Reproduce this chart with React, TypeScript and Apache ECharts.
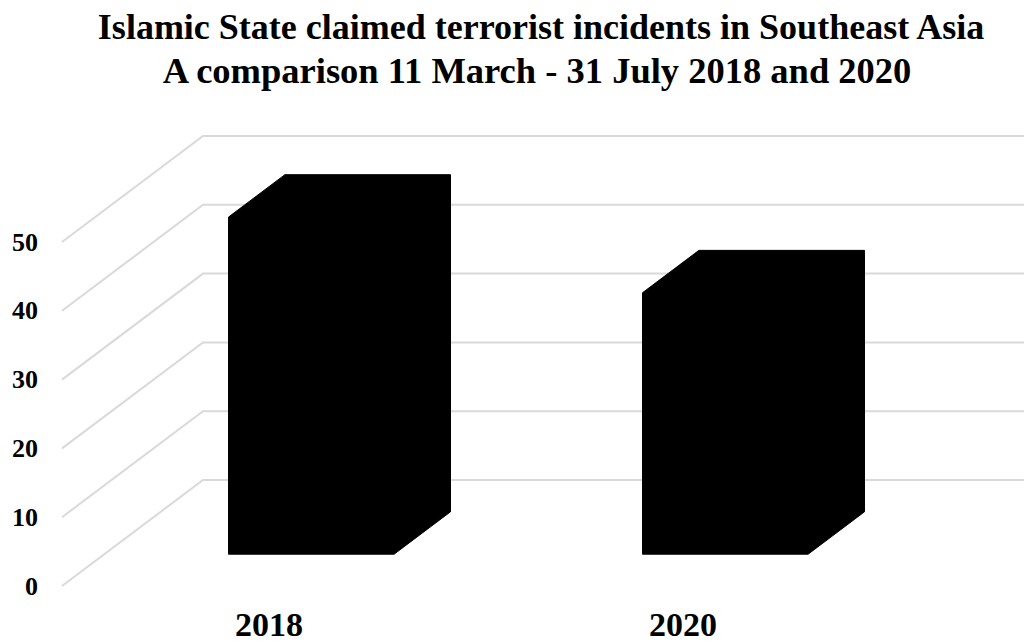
import React, { useEffect, useRef } from "react";
import * as echarts from "echarts";

const categories = ["2018", "2020"];
const incidents = [49, 38];
const yTicks = [0, 10, 20, 30, 40, 50];
const titleLines = [
  "Islamic State claimed terrorist incidents in Southeast Asia",
  "A comparison 11 March - 31 July 2018 and 2020",
];

const DX = 141;
const DY = -106;
const FONT = "'Liberation Serif', 'Times New Roman', serif";

export default function App() {
  const ref = useRef<HTMLDivElement>(null);
  useEffect(() => {
    const chart = echarts.init(ref.current!, null, { renderer: "svg" });
    const option: any = {
      animation: false,
      backgroundColor: "#ffffff",
      graphic: [
        {
          type: "text",
          x: 541,
          y: 27,
          style: {
            text: titleLines[0],
            font: `bold 36px ${FONT}`,
            fill: "#000",
            textAlign: "center",
            textVerticalAlign: "middle",
          },
        },
        {
          type: "text",
          x: 537,
          y: 70,
          style: {
            text: titleLines[1],
            font: `bold 36.5px ${FONT}`,
            fill: "#000",
            textAlign: "center",
            textVerticalAlign: "middle",
          },
        },
      ],
      grid: { left: 62, right: 134, top: 242, bottom: 58, containLabel: false },
      xAxis: {
        type: "category",
        data: categories,
        axisLine: { show: false },
        axisTick: { show: false },
        splitLine: { show: false },
        axisLabel: {
          color: "#000",
          fontFamily: FONT,
          fontWeight: "bold",
          fontSize: 34,
          lineHeight: 28,
          margin: 24,
        },
      },
      yAxis: {
        type: "value",
        min: 0,
        max: 50,
        interval: 10,
        axisLine: { show: false },
        axisTick: { show: false },
        splitLine: { show: false },
        axisLabel: {
          color: "#000",
          fontFamily: FONT,
          fontWeight: "bold",
          fontSize: 26,
          margin: 24,
        },
      },
      series: [
        {
          type: "custom",
          z: 1,
          silent: true,
          data: yTicks.map((v) => [0, v]),
          renderItem: (params: any, api: any) => {
            const cs = params.coordSys;
            const p = api.coord([0, api.value(1)]);
            const y = p[1];
            return {
              type: "polyline",
              shape: {
                points: [
                  [cs.x, y],
                  [cs.x + DX, y + DY],
                  [cs.x + cs.width + DX, y + DY],
                ],
              },
              style: { stroke: "#d9d9d9", lineWidth: 2, fill: "none" },
            };
          },
        },
        {
          type: "custom",
          z: 2,
          data: incidents.map((v, i) => [i, v]),
          renderItem: (params: any, api: any) => {
            const i = api.value(0);
            const v = api.value(1);
            const base = api.coord([i, 0]);
            const top = api.coord([i, v]);
            const bw = api.size([1, 0])[0] * 0.4;
            const fdx = 0.3 * DX;
            const fdy = 0.3 * DY;
            const bdx = 0.4 * DX;
            const bdy = 0.4 * DY;
            const x0 = base[0] - bw / 2 + fdx;
            const x1 = x0 + bw;
            const yb = base[1] + fdy;
            const yt = top[1] + fdy;
            return {
              type: "polygon",
              shape: {
                points: [
                  [x0, yb],
                  [x0, yt],
                  [x0 + bdx, yt + bdy],
                  [x1 + bdx, yt + bdy],
                  [x1 + bdx, yb + bdy],
                  [x1, yb],
                ],
              },
              style: { fill: "#000", stroke: "#000", lineWidth: 1 },
            };
          },
        },
      ],
    };
    chart.setOption(option);
    return () => chart.dispose();
  }, []);
  return (
    <div
      ref={ref}
      style={{ position: "fixed", left: 0, top: 0, width: 1024, height: 644 }}
    />
  );
}
